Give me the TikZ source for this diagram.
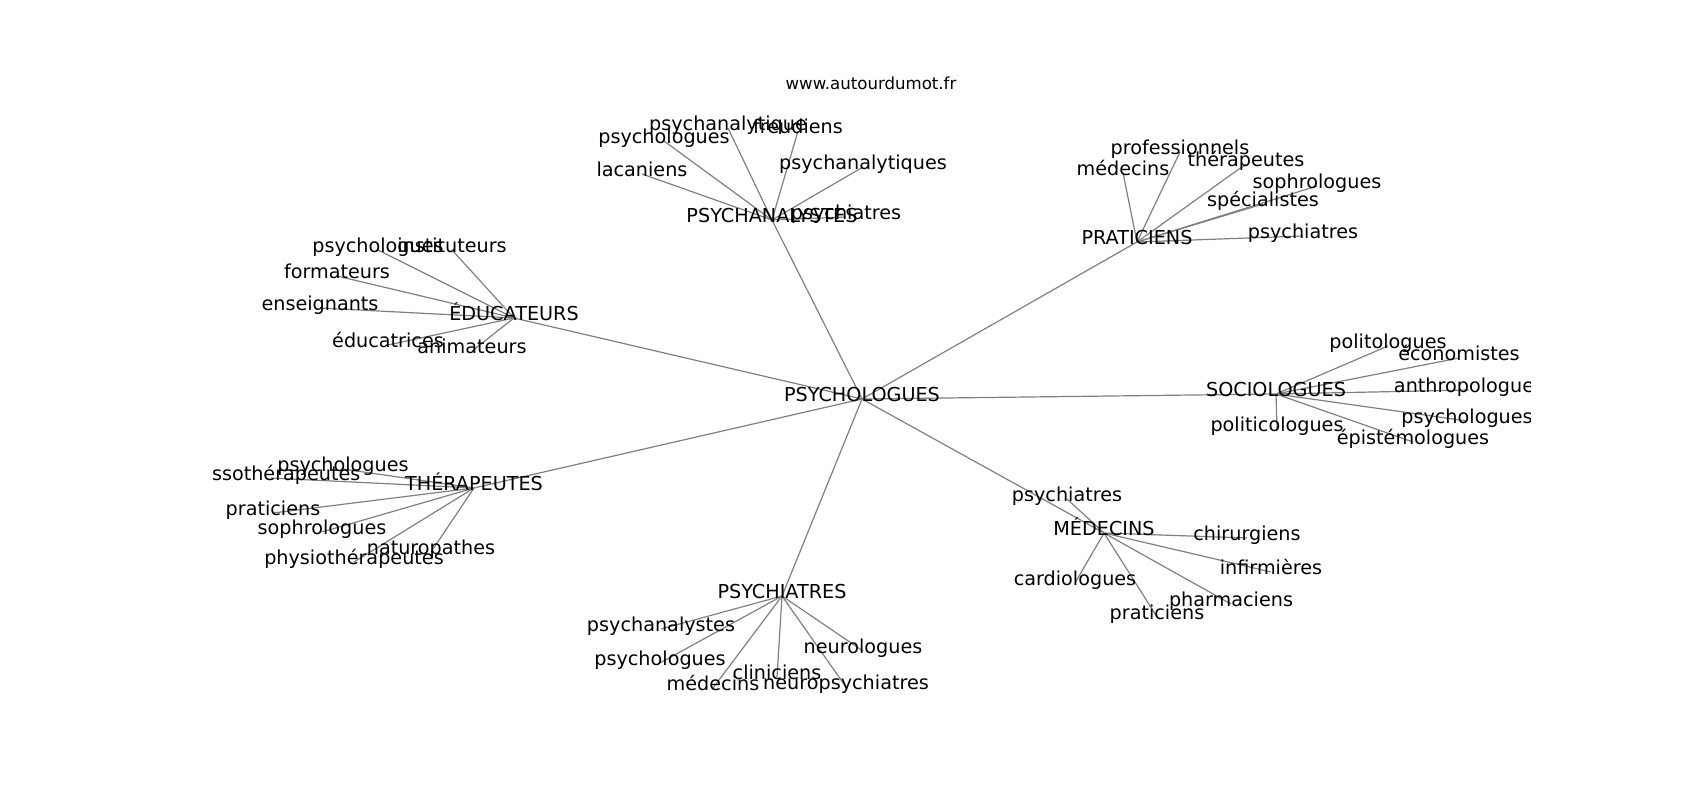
\documentclass[tikz,border=0pt]{standalone}
\usepackage{fontspec}
\setmainfont{DejaVu Sans}
\pgfdeclarelayer{bg}
\pgfsetlayers{bg,main}
\tikzset{
  lbl/.style={inner sep=0pt, outer sep=0pt, text height=0.76em, text depth=0.208em, anchor=center, font=\fontsize{19.2}{22}\selectfont, text=black},
  edge/.style={draw=black!50, line width=1.2pt},
  ttl/.style={inner sep=0pt, anchor=base, font=\fontsize{16.6}{19}\selectfont}
}
\begin{document}
\begin{tikzpicture}[x=1pt,y=-1pt]
\useasboundingbox (0,0) rectangle (1700,800);
\node[ttl] (title) at (871,89) {www.autourdumot.fr};
\begin{scope}
\clip (212.5,96) rectangle (1530,712);
\begin{scope}[shift={(0,4)}]
% hubs
\node[lbl] (c) at (862,395) {PSYCHOLOGUES};
\node[lbl] (edu) at (514,314) {ÉDUCATEURS};
\node[lbl] (pan) at (772,216) {PSYCHANALYSTES};
\node[lbl] (pra) at (1137,238) {PRATICIENS};
\node[lbl] (soc) at (1276,390) {SOCIOLOGUES};
\node[lbl] (med) at (1104,529) {MÉDECINS};
\node[lbl] (psy) at (782,592) {PSYCHIATRES};
\node[lbl] (the) at (474,484) {THÉRAPEUTES};
% psychanalystes leaves
\node[lbl] (pan1) at (664,137) {psychologues};
\node[lbl] (pan2) at (728,124) {psychanalytique};
\node[lbl] (pan3) at (798,127) {freudiens};
\node[lbl] (pan4) at (642,170) {lacaniens};
\node[lbl] (pan5) at (863,163) {psychanalytiques};
\node[lbl] (pan6) at (846,213) {psychiatres};
% praticiens leaves
\node[lbl] (pra1) at (1180,148) {professionnels};
\node[lbl] (pra2) at (1123,169) {médecins};
\node[lbl] (pra3) at (1246,160) {thérapeutes};
\node[lbl] (pra4) at (1317,182) {sophrologues};
\node[lbl] (pra5) at (1263,200) {spécialistes};
\node[lbl] (pra6) at (1303,232) {psychiatres};
% educateurs leaves
\node[lbl] (edu1) at (378,246) {psychologues};
\node[lbl] (edu2) at (452,246) {instituteurs};
\node[lbl] (edu3) at (337,272) {formateurs};
\node[lbl] (edu4) at (320,304) {enseignants};
\node[lbl] (edu5) at (388,341) {éducatrices};
\node[lbl] (edu6) at (472,347) {animateurs};
% sociologues leaves
\node[lbl] (soc1) at (1388,342) {politologues};
\node[lbl] (soc2) at (1459,354) {économistes};
\node[lbl] (soc3) at (1469,386) {anthropologues};
\node[lbl] (soc4) at (1467,417) {psychologues};
\node[lbl] (soc5) at (1277,425) {politicologues};
\node[lbl] (soc6) at (1413,438) {épistémologues};
% therapeutes leaves
\node[lbl] (the1) at (343,465) {psychologues};
\node[lbl] (the2) at (271,474) {massothérapeutes};
\node[lbl] (the3) at (273,509) {praticiens};
\node[lbl] (the4) at (322,528) {sophrologues};
\node[lbl] (the5) at (431,548) {naturopathes};
\node[lbl] (the6) at (354,558) {physiothérapeutes};
% medecins leaves
\node[lbl] (med1) at (1067,495) {psychiatres};
\node[lbl] (med2) at (1247,534) {chirurgiens};
\node[lbl] (med3) at (1271,568) {infirmières};
\node[lbl] (med4) at (1075,579) {cardiologues};
\node[lbl] (med5) at (1231,600) {pharmaciens};
\node[lbl] (med6) at (1157,613) {praticiens};
% psychiatres leaves
\node[lbl] (psy1) at (661,625) {psychanalystes};
\node[lbl] (psy2) at (660,659) {psychologues};
\node[lbl] (psy3) at (863,647) {neurologues};
\node[lbl] (psy4) at (777,673) {cliniciens};
\node[lbl] (psy5) at (713,684) {médecins};
\node[lbl] (psy6) at (846,683) {neuropsychiatres};
\begin{pgfonlayer}{bg}
\foreach \h in {edu,pan,pra,soc,med,psy,the}
  \draw[edge] (c.center) -- (\h.center);
\foreach \h in {edu,pan,pra,soc,med,psy,the}
  \foreach \i in {1,...,6}
    \draw[edge] (\h.center) -- (\h\i.center);
\end{pgfonlayer}
\end{scope}
\end{scope}
\end{tikzpicture}
\end{document}
